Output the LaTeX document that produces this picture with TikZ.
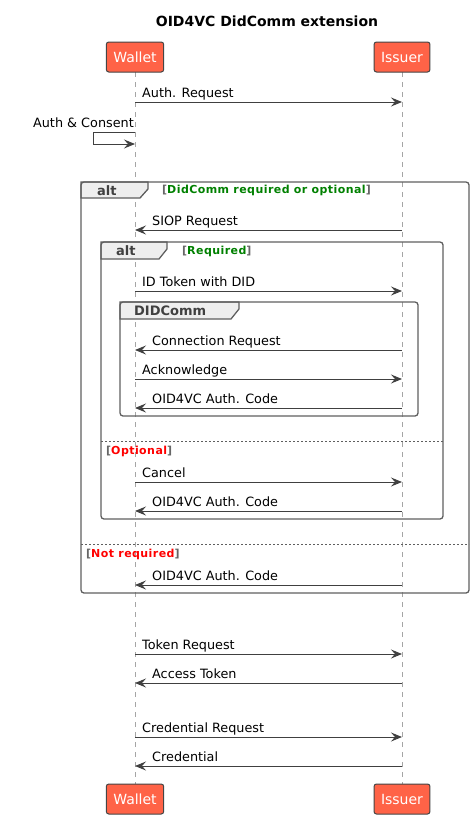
\documentclass[tikz,border=0pt]{standalone}
\usepackage{fontspec}
\setmainfont{DejaVu Sans}
\newfontfamily\guardfont[LetterSpace=4.0]{DejaVu Sans}
\usetikzlibrary{calc,arrows.meta}

\definecolor{partfill}{RGB}{255,99,71}
\definecolor{partborder}{RGB}{69,69,69}
\definecolor{linecolor}{RGB}{64,64,64}
\definecolor{lifecolor}{RGB}{165,165,165}
\definecolor{framecolor}{RGB}{95,95,95}
\definecolor{tabfill}{RGB}{238,238,238}
\definecolor{guardgray}{RGB}{102,102,102}
\definecolor{guardgreen}{RGB}{0,128,0}
\definecolor{guardred}{RGB}{255,0,0}

\tikzset{
  %% participant : a box on top or bottom of a lifeline
  participant/.style={
    rectangle,
    rounded corners=2.5pt,
    draw=partborder,
    line width=1pt,
    fill=partfill,
    text=white,
    font=\fontsize{14}{16}\selectfont,
    minimum height=30pt,
    inner xsep=7pt
  },
  %% lifeline : dashed line below a participant
  lifeline/.style={lifecolor, line width=1pt, dash pattern=on 5pt off 5pt},
  %% msg : a message between lifelines
  msg/.style={
    draw=linecolor,
    line width=1pt,
    -{Stealth[length=11pt,width=9pt,inset=4pt]}
  },
  %% msgtext : the label of a message
  msgtext/.style={
    font=\fontsize{12.8}{15}\selectfont,
    inner sep=0pt,
    anchor=base west
  },
  %% frame : an alt or group frame
  frame/.style={framecolor, line width=1.3pt, rounded corners=3pt},
  tab/.style={draw=framecolor, fill=tabfill, line width=1.3pt},
  tabtext/.style={
    font=\bfseries\fontsize{13}{15}\selectfont,
    text=black!75,
    inner sep=0pt,
    anchor=base west
  },
  %% guard : condition of an alt part
  guard/.style={
    font=\guardfont\bfseries\fontsize{11}{13}\selectfont,
    inner sep=0pt,
    anchor=base west
  },
  %% divider : separator between alt parts
  divider/.style={framecolor, line width=0.8pt, dash pattern=on 2pt off 2pt}
}

\begin{document}
\begin{tikzpicture}
  [x=1pt,
  y=-1pt]
  \useasboundingbox (0,0) rectangle (474,819);

  %% title
  \node (title) [font=\bfseries\fontsize{14}{16}\selectfont, anchor=base]
    at (267,27) {OID4VC DidComm extension};

  %% lifelines
  \coordinate (wallet_l) at (135,72);
  \coordinate (issuer_l) at (402,72);
  \draw [lifeline] (wallet_l) -- (135,784);
  \draw [lifeline] (issuer_l) -- (402,784);

  %% participants
  \node (wallet) [participant] at (135,57) {Wallet};
  \node (issuer) [participant] at (402,57) {Issuer};
  \node (wallet_b) [participant] at (135,799) {Wallet};
  \node (issuer_b) [participant] at (402,799) {Issuer};


  %% outer alt frame
  \draw [tab] (81,182) -- (148,182) -- (148,189) -- (140,198) -- (81,198) -- cycle;
  \draw [frame] (81,182) rectangle (469,593);
  \node (alt_outer) [tabtext] at (97,195) {alt};
  \node (g_outer) [guard] at (162,193) {%
    \textcolor{guardgray}{[}\textcolor{guardgreen}{DidComm required or optional}\textcolor{guardgray}{]}};
  \draw [divider] (81,544) -- (469,544);
  \node (g_notreq) [guard] at (86,557) {%
    \textcolor{guardgray}{[}\textcolor{guardred}{Not required}\textcolor{guardgray}{]}};

  %% inner alt frame
  \draw [tab] (101,242) -- (167,242) -- (167,249) -- (159,259) -- (101,259) -- cycle;
  \draw [frame] (101,242) rectangle (443,519);
  \node (alt_inner) [tabtext] at (116,255) {alt};
  \node (g_req) [guard] at (182,254) {%
    \textcolor{guardgray}{[}\textcolor{guardgreen}{Required}\textcolor{guardgray}{]}};
  \draw [divider] (101,441) -- (443,441);
  \node (g_opt) [guard] at (106,454) {%
    \textcolor{guardgray}{[}\textcolor{guardred}{Optional}\textcolor{guardgray}{]}};

  %% DIDComm group
  \draw [tab] (120,302) -- (239,302) -- (239,309) -- (231,319) -- (120,319) -- cycle;
  \draw [frame] (120,302) rectangle (418,416);
  \node (didcomm) [tabtext] at (134,315) {DIDComm};


  %% messages
  \coordinate (r_auth) at (0,102);
  \draw [msg] (wallet |- r_auth) -- (issuer |- r_auth);
  \node (t_auth) [msgtext] at ($(wallet |- r_auth)+(7,-5)$) {Auth. Request};

  \coordinate (r_consent) at (0,132);
  \coordinate (consent_turn) at (93,132);
  \draw [msg] (wallet |- r_consent) -- (consent_turn) -- (93,144) -- (wallet |- 0,144);
  \node (t_consent) [msgtext, anchor=base east] at ($(wallet |- r_consent)+(-1,-5)$)
    {Auth \& Consent};

  \coordinate (r_siop) at (0,230);
  \draw [msg] (issuer |- r_siop) -- (wallet |- r_siop);
  \node (t_siop) [msgtext] at ($(wallet |- r_siop)+(17,-5)$) {SIOP Request};

  \coordinate (r_idtoken) at (0,291);
  \draw [msg] (wallet |- r_idtoken) -- (issuer |- r_idtoken);
  \node (t_idtoken) [msgtext] at ($(wallet |- r_idtoken)+(7,-5)$) {ID Token with DID};

  \coordinate (r_conn) at (0,350);
  \draw [msg] (issuer |- r_conn) -- (wallet |- r_conn);
  \node (t_conn) [msgtext] at ($(wallet |- r_conn)+(17,-5)$) {Connection Request};

  \coordinate (r_ack) at (0,379);
  \draw [msg] (wallet |- r_ack) -- (issuer |- r_ack);
  \node (t_ack) [msgtext] at ($(wallet |- r_ack)+(7,-5)$) {Acknowledge};

  \coordinate (r_code1) at (0,408);
  \draw [msg] (issuer |- r_code1) -- (wallet |- r_code1);
  \node (t_code1) [msgtext] at ($(wallet |- r_code1)+(17,-5)$) {OID4VC Auth. Code};

  \coordinate (r_cancel) at (0,482);
  \draw [msg] (wallet |- r_cancel) -- (issuer |- r_cancel);
  \node (t_cancel) [msgtext] at ($(wallet |- r_cancel)+(7,-5)$) {Cancel};

  \coordinate (r_code2) at (0,511);
  \draw [msg] (issuer |- r_code2) -- (wallet |- r_code2);
  \node (t_code2) [msgtext] at ($(wallet |- r_code2)+(17,-5)$) {OID4VC Auth. Code};

  \coordinate (r_code3) at (0,585);
  \draw [msg] (issuer |- r_code3) -- (wallet |- r_code3);
  \node (t_code3) [msgtext] at ($(wallet |- r_code3)+(17,-5)$) {OID4VC Auth. Code};

  \coordinate (r_tokreq) at (0,654);
  \draw [msg] (wallet |- r_tokreq) -- (issuer |- r_tokreq);
  \node (t_tokreq) [msgtext] at ($(wallet |- r_tokreq)+(7,-5)$) {Token Request};

  \coordinate (r_token) at (0,683);
  \draw [msg] (issuer |- r_token) -- (wallet |- r_token);
  \node (t_token) [msgtext] at ($(wallet |- r_token)+(17,-5)$) {Access Token};

  \coordinate (r_credreq) at (0,737);
  \draw [msg] (wallet |- r_credreq) -- (issuer |- r_credreq);
  \node (t_credreq) [msgtext] at ($(wallet |- r_credreq)+(7,-5)$) {Credential Request};

  \coordinate (r_cred) at (0,766);
  \draw [msg] (issuer |- r_cred) -- (wallet |- r_cred);
  \node (t_cred) [msgtext] at ($(wallet |- r_cred)+(17,-5)$) {Credential};

\end{tikzpicture}
\end{document}
